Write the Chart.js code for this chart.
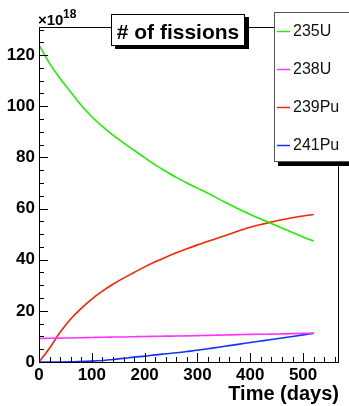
<!DOCTYPE html>
<html>
<head>
<meta charset="utf-8">
<script src="https://cdn.jsdelivr.net/npm/chart.js@4.4.0/dist/chart.umd.min.js"></script>
<style>
  html, body { margin: 0; padding: 0; background: #fff; }
  #wrap { width: 349px; height: 406px; }
</style>
</head>
<body>
<div id="wrap"><canvas id="fissChart" width="349" height="406"></canvas></div>
<script>
// time axis (days) and number of fissions (x10^18) per isotope
const days  = [0, 20, 40, 60, 80, 100, 120, 140, 160, 180, 200, 220, 240, 260, 280, 300, 320, 340, 360, 380, 400, 420, 440, 460, 480, 500, 520];
const u235  = [124, 116.8, 110.9, 105.6, 100.4, 95.9, 92.1, 88.7, 85.7, 82.8, 79.9, 77.1, 74.6, 72.2, 70, 68, 66, 63.8, 61.7, 59.6, 57.7, 55.9, 54.2, 52.4, 50.6, 48.9, 47.3];
const u238  = [9.2, 9.3, 9.35, 9.4, 9.5, 9.6, 9.7, 9.75, 9.8, 9.9, 10, 10.05, 10.1, 10.15, 10.2, 10.3, 10.4, 10.5, 10.6, 10.7, 10.8, 10.85, 10.9, 11, 11.1, 11.2, 11.3];
const pu239 = [0, 5.4, 11.6, 16.8, 21, 24.6, 27.7, 30.4, 32.8, 35, 37.2, 39.2, 41, 42.7, 44.3, 45.8, 47.2, 48.6, 50, 51.4, 52.7, 53.8, 54.7, 55.6, 56.4, 57.1, 57.7];
const pu241 = [0, 0, 0, 0.05, 0.2, 0.35, 0.6, 1, 1.4, 1.9, 2.3, 2.8, 3.2, 3.6, 4.1, 4.6, 5.2, 5.8, 6.4, 7, 7.6, 8.2, 8.8, 9.4, 10, 10.6, 11.2];

const seriesNames  = ['235U', '238U', '239Pu', '241Pu'];
const seriesColors = ['#22ee00', '#ff33ff', '#ff2200', '#1133ff'];
const xTickValues = [0, 100, 200, 300, 400, 500];
const yTickValues = [0, 20, 40, 60, 80, 100, 120];

const FONT = '"Liberation Sans", Arial, sans-serif';

const toPoints = (vals) => vals.map((v, i) => ({ x: days[i], y: v }));

// ROOT style frame, inward ticks, title box and legend box
const rootDecor = {
    id: 'rootDecor',
    afterDatasetsDraw(chart) {
        const { ctx, chartArea: a, scales: { x, y } } = chart;
        ctx.save();
        ctx.strokeStyle = '#000';
        ctx.lineWidth = 1;
        ctx.strokeRect(a.left + 0.5, a.top + 0.5, a.right - a.left - 1, a.bottom - a.top);
        ctx.beginPath();
        for (let v = 0; v <= x.max; v += 20) {
            const px = Math.round(x.getPixelForValue(v)) + 0.5;
            const len = v % 100 === 0 ? 9 : 5;
            ctx.moveTo(px, a.bottom);
            ctx.lineTo(px, a.bottom - len);
        }
        for (let v = 0; v <= y.max; v += 5) {
            const py = Math.round(y.getPixelForValue(v)) + 0.5;
            const len = v % 20 === 0 ? 9 : 5;
            ctx.moveTo(a.left, py);
            ctx.lineTo(a.left + len, py);
        }
        ctx.stroke();
        ctx.restore();
    },
    afterDraw(chart) {
        const { ctx } = chart;
        ctx.save();
        // exponent
        ctx.fillStyle = '#000';
        ctx.textBaseline = 'alphabetic';
        ctx.textAlign = 'left';
        ctx.font = 'bold 15px ' + FONT;
        ctx.fillText('\u00d710', 38, 25);
        ctx.font = 'bold 12px ' + FONT;
        ctx.fillText('18', 63, 18);

        // title box
        ctx.fillStyle = '#000';
        ctx.fillRect(115, 17, 134, 32);
        ctx.fillStyle = '#fff';
        ctx.fillRect(111, 14, 134, 32);
        ctx.strokeStyle = '#000';
        ctx.strokeRect(111.5, 14.5, 133, 31);
        ctx.fillStyle = '#000';
        ctx.font = 'bold 21px ' + FONT;
        ctx.textAlign = 'center';
        ctx.fillText('# of fissions', 178, 39);

        // legend box
        ctx.fillStyle = '#000';
        ctx.fillRect(278, 162, 80, 4);
        ctx.fillStyle = '#fff';
        ctx.fillRect(274, 12, 80, 150);
        ctx.strokeStyle = '#555';
        ctx.strokeRect(274.5, 12.5, 80, 149);
        ctx.textAlign = 'left';
        ctx.textBaseline = 'middle';
        ctx.font = '16px ' + FONT;
        chart.data.datasets.forEach((ds, i) => {
            const ly = 31 + i * 38;
            ctx.strokeStyle = ds.borderColor;
            ctx.lineWidth = 1.5;
            ctx.beginPath();
            ctx.moveTo(277, ly + 0.5);
            ctx.lineTo(290, ly + 0.5);
            ctx.stroke();
            ctx.fillStyle = '#111';
            ctx.fillText(ds.label, 293, ly + 1);
        });
        ctx.restore();
    }
};

const datasets = [u235, u238, pu239, pu241].map((vals, i) => ({
    label: seriesNames[i],
    data: toPoints(vals),
    borderColor: seriesColors[i],
    backgroundColor: seriesColors[i],
    borderWidth: 1.6,
    pointRadius: 0,
    cubicInterpolationMode: 'monotone',
    fill: false
}));

new Chart(document.getElementById('fissChart'), {
    type: 'line',
    data: { datasets: datasets },
    options: {
        responsive: false,
        animation: false,
        layout: { padding: { top: 27, right: 10, left: 0, bottom: 0 } },
        plugins: {
            legend: { display: false },
            tooltip: { enabled: false },
            title: { display: false }
        },
        scales: {
            x: {
                type: 'linear',
                min: 0,
                max: 568,
                afterBuildTicks: (scale) => { scale.ticks = xTickValues.map(v => ({ value: v })); },
                afterFit: (scale) => { scale.height = 44; },
                grid: { display: false, drawTicks: false },
                border: { display: false },
                ticks: {
                    padding: 3,
                    maxRotation: 0,
                    color: '#000',
                    font: { family: FONT, size: 17, weight: 'bold' }
                },
                title: {
                    display: true,
                    text: 'Time (days)',
                    align: 'end',
                    color: '#000',
                    padding: { top: 0, bottom: 0 },
                    font: { family: FONT, size: 20, weight: 'bold' }
                }
            },
            y: {
                type: 'linear',
                min: 0,
                max: 131,
                afterBuildTicks: (scale) => { scale.ticks = yTickValues.map(v => ({ value: v })); },
                afterFit: (scale) => { scale.width = 39; },
                grid: { display: false, drawTicks: false },
                border: { display: false },
                ticks: {
                    padding: 4,
                    color: '#000',
                    font: { family: FONT, size: 17, weight: 'bold' }
                }
            }
        }
    },
    plugins: [rootDecor]
});
</script>
</body>
</html>
